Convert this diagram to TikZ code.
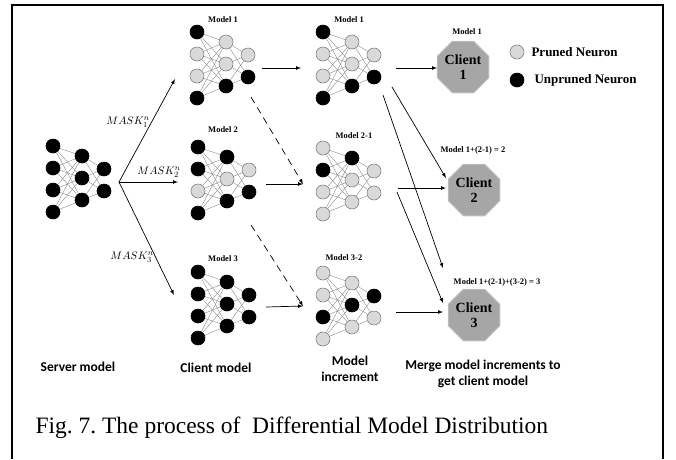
\documentclass[tikz,border=0pt]{standalone}
\usepackage{fontspec}
\setmainfont{Liberation Serif}
\newfontfamily\calib{Carlito}
\usetikzlibrary{shapes.geometric}
\frenchspacing

\definecolor{fillb}{HTML}{000000}
\definecolor{lineb}{HTML}{000000}
\definecolor{fillg}{HTML}{D9D9D9}
\definecolor{lineg}{HTML}{808080}
\definecolor{clientfill}{HTML}{A6A6A6}
\definecolor{clientline}{HTML}{C4C4C4}

\tikzset{
  neuron/.style={circle,minimum size=14pt,inner sep=0pt,line width=0.6pt,fill=fill#1,draw=line#1},
  link/.style={gray,line width=0.35pt},
  arr/.style={-latex,line width=0.7pt},
  dasharr/.style={arr,dash pattern=on 7pt off 5pt},
  client/.style={regular polygon,regular polygon sides=8,minimum size=48pt,inner sep=0pt,
    fill=clientfill,draw=clientline,line width=0.8pt,align=center,
    font=\bfseries\fontsize{14}{15}\selectfont},
  modellabel/.style={font=\bfseries\fontsize{8.5}{10}\selectfont},
  masklabel/.style={font=\fontsize{11}{13}\selectfont},
  stagelabel/.style={font=\calib\bfseries\fontsize{13.5}{16}\selectfont,align=center},
  legendtext/.style={anchor=west,font=\bfseries\fontsize{13}{15}\selectfont},
}

% network : name, x, y, colours of layer 1, 2, 3 (b = unpruned, g = pruned)
\newcommand{\drawnet}[6]{%
  \foreach \c [count=\i] in {#4}
    \node[neuron=\c] (#1-1-\i) at (#2,{#3+22*(\i-1)}) {};
  \foreach \c [count=\j] in {#5}
    \node[neuron=\c] (#1-2-\j) at ({#2+29},{#3+10+22*(\j-1)}) {};
  \foreach \c [count=\k] in {#6}
    \node[neuron=\c] (#1-3-\k) at ({#2+51},{#3+23+22*(\k-1)}) {};
  \foreach \i in {1,...,4}
    \foreach \j in {1,2,3}
      \draw[link] (#1-1-\i) -- (#1-2-\j);
  \foreach \j in {1,2,3}
    \foreach \k in {1,2}
      \draw[link] (#1-2-\j) -- (#1-3-\k);
}

\begin{document}
\begin{tikzpicture}[x=1pt,y=-1pt]
	\useasboundingbox (0,0) rectangle (676,459);
	\draw[line width=2.2pt] (12,459) -- (12,5) -- (663,5) -- (663,459);%cadre
	
	\drawnet{s}{53}{146}{b,b,b,b}{b,b,b}{b,b}
	\drawnet{c1}{197}{32}{b,g,g,b}{g,g,b}{g,b}
	\drawnet{c2}{198}{147}{b,b,g,b}{b,g,b}{g,b}
	\drawnet{c3}{198}{272}{b,b,b,b}{b,b,b}{b,b}
	\drawnet{i1}{323}{32}{b,g,g,b}{g,g,b}{g,b}
	\drawnet{i2}{323}{148}{g,b,g,g}{b,g,g}{g,g}
	\drawnet{i3}{323}{273}{g,g,b,g}{g,b,g}{b,g}
	
	\node[modellabel] (lc1) at (223,20) {Model 1};
	\node[modellabel] (lc2) at (223,130) {Model 2};
	\node[modellabel] (lc3) at (223,259) {Model 3};
	\node[modellabel] (li1) at (349,20) {Model 1};
	\node[modellabel] (li2) at (354,136) {Model 2-1};
	\node[modellabel] (li3) at (344,258) {Model 3-2};
	
	\node[client] (k1) at (463,67) {Client\\1};
	\node[client] (k2) at (474,190) {Client\\2};
	\node[client] (k3) at (474,315) {Client\\3};
	\node[modellabel] (lk1) at (467,32) {Model 1};
	\node[modellabel] (lk2) at (473,150) {Model 1+(2-1) = 2};
	\node[modellabel] (lk3) at (497,282) {Model 1+(2-1)+(3-2) = 3};
	
	% legende
	\node[neuron=g] (pruned) at (517,52) {};
	\node[neuron=b] (unpruned) at (517,80) {};
	\node[legendtext] (tpruned) at (528,52) {Pruned Neuron};
	\node[legendtext] (tunpruned) at (531,80) {Unpruned Neuron};
	
	% serveur -> clients
	\coordinate (split) at (119,182);
	\coordinate (m1in) at (175,79);
	\coordinate (m2in) at (178,182);
	\coordinate (m3in) at (174,295);
	\draw[arr] (split) -- (m1in);
	\draw[arr] (split) -- (m2in);
	\draw[arr] (split) -- (m3in);
	\node[masklabel] (mask1) at (128,122) {$MASK_1^n$};
	\node[masklabel] (mask2) at (159,172) {$MASK_2^n$};
	\node[masklabel] (mask3) at (132,257) {$MASK_3^n$};
	
	% clients -> increments
	\coordinate (c1out) at (262,68);
	\coordinate (c2out) at (266,184);
	\coordinate (c3out) at (266,307);
	\coordinate (i1in) at (301,68);
	\coordinate (i2in) at (303,184);
	\coordinate (i3in) at (303,306);
	\coordinate (d1) at (251,97);
	\coordinate (d2) at (251,225);
	\draw[arr] (c1out) -- (i1in);
	\draw[arr] (c2out) -- (i2in);
	\draw[arr] (c3out) -- (i3in);
	\draw[dasharr] (d1) -- (i2in);
	\draw[dasharr] (d2) -- (i3in);
	
	% increments -> clients
	\coordinate (i1out) at (396,68);
	\coordinate (i2out) at (398,188);
	\coordinate (i3out) at (396,312);
	\coordinate (e1) at (392,87);
	\coordinate (e2) at (383,95);
	\coordinate (e3) at (397,192);
	\coordinate (k1in) at (437,68);
	\coordinate (k2in) at (446,188);
	\coordinate (k3in) at (443,312);
	\coordinate (k2top) at (446,178);
	\coordinate (k3top) at (443,268);
	\coordinate (k3mid) at (443,303);
	\draw[arr] (i1out) -- (k1in);
	\draw[arr] (i2out) -- (k2in);
	\draw[arr] (i3out) -- (k3in);
	\draw[arr] (e1) -- (k2top);
	\draw[arr] (e2) -- (k3top);
	\draw[arr] (e3) -- (k3mid);
	
	\node[stagelabel] (server) at (78,367) {Server model};
	\node[stagelabel] (clientm) at (216,368) {Client model};
	\node[stagelabel] (increment) at (350,369) {Model\\increment};
	\node[stagelabel] (merge) at (483,374) {Merge model increments to\\get client model};
	
	\node[anchor=base west,font=\fontsize{23.5}{28}\selectfont] (caption) at (32,433) {Fig. 7. The process of~~Differential Model Distribution};
\end{tikzpicture}
\end{document}
